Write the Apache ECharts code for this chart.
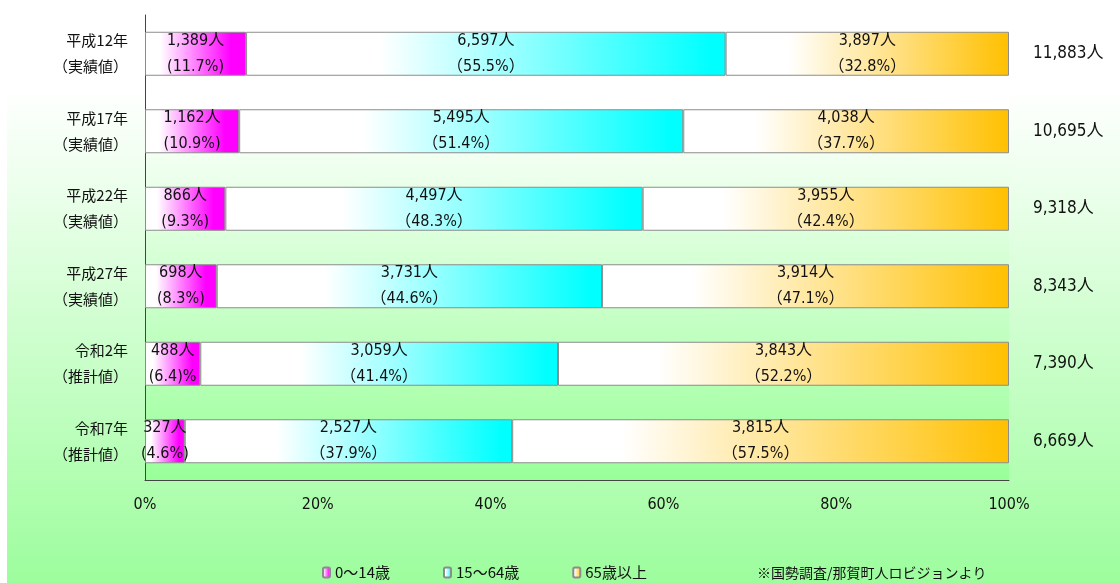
<!DOCTYPE html>
<html><head><meta charset="utf-8">
<script src="https://cdn.jsdelivr.net/npm/echarts@6/dist/echarts.min.js"></script>
<style>html,body{margin:0;padding:0;background:#fff}#c{width:1120px;height:583px}</style>
</head><body><div id="c"></div>
<script>
var years = ['平成12年','平成17年','平成22年','平成27年','令和2年','令和7年'];
var kinds = ['（実績値）','（実績値）','（実績値）','（実績値）','（推計値）','（推計値）'];
var young = [1389,1162,866,698,488,327];
var working = [6597,5495,4497,3731,3059,2527];
var elderly = [3897,4038,3955,3914,3843,3815];
var totals = [11883,10695,9318,8343,7390,6669];
var youngPct = [11.7,10.9,9.3,8.3,6.4,4.6];
var workingPct = [55.5,51.4,48.3,44.6,41.4,37.9];
var elderlyPct = [32.8,37.7,42.4,47.1,52.2,57.5];
var youngPctText = ['(11.7%)','(10.9%)','(9.3%)','(8.3%)','(6.4)%','(4.6%)'];
var xTicks = [0,20,40,60,80,100];
var legendNames = ['0〜14歳','15〜64歳','65歳以上'];
var sourceNote = '※国勢調査/那賀町人ロビジョンより';

var numFont = '"Liberation Sans Narrow","DejaVu Sans Condensed","Noto Sans CJK JP",sans-serif';
var jpFont = '"Noto Sans CJK JP",sans-serif';

function fmt(n){return n.toLocaleString('en-US');}
function grad(c, w, e){
  return {type:'linear',x:0,y:0,x2:1,y2:0,colorStops:[
    {offset:0,color:'#ffffff'},{offset:w,color:'#ffffff'},{offset:e,color:c},{offset:1,color:c}]};
}
var categories = years.map(function(y,i){return y+'\n'+kinds[i];});

function mkSeries(name, pct, counts, pctText, color, w, e){
  return {
    name:name, type:'bar', stack:'a', barWidth:44,
    data:pct,
    itemStyle:{color:grad(color,w,e), borderColor:'#8c8c8c', borderWidth:1},
    label:{show:true, position:'inside', color:'#111', fontSize:16, lineHeight:26,
      fontFamily:numFont,
      formatter:function(p){return fmt(counts[p.dataIndex])+'人\n'+pctText[p.dataIndex];}},
    emphasis:{disabled:true}
  };
}

var chart = echarts.init(document.getElementById('c'));
chart.setOption({
  animation:false,
  graphic:[
    {type:'rect', z:-10, silent:true, shape:{x:7,y:0,width:1113,height:583},
     style:{fill:{type:'linear',x:0,y:0,x2:0,y2:1,colorStops:[{offset:0,color:'#ffffff'},{offset:0.15,color:'#ffffff'},{offset:1,color:'#9dfd9d'}]}}},
    {type:'text', left:757, top:566, style:{text:sourceNote, font:'14px "Noto Sans CJK JP",sans-serif', fill:'#111'}}
  ],
  grid:{left:145, right:111, top:15, bottom:103, show:true, borderWidth:0,
    backgroundColor:{type:'linear',x:0,y:0,x2:0,y2:1,colorStops:[{offset:0,color:'#ffffff'},{offset:0.2,color:'#ffffff'},{offset:1,color:'#99ff99'}]}},
  legend:{left:322, top:565, padding:0, itemWidth:7, itemHeight:10, itemGap:53,
    textStyle:{fontFamily:jpFont, fontSize:15, color:'#111'}, data:legendNames},
  xAxis:{type:'value', min:0, max:100, interval:20,
    axisLine:{show:true, lineStyle:{color:'#444', width:1}},
    axisTick:{show:false}, splitLine:{show:false},
    axisLabel:{margin:17, fontFamily:numFont, fontSize:16, color:'#111',
      formatter:function(v){return v+'%';}}},
  yAxis:[
    {type:'category', inverse:true, data:categories,
     axisLine:{show:true, lineStyle:{color:'#444', width:1}}, axisTick:{show:false},
     axisLabel:{margin:17, fontFamily:jpFont, fontSize:15, lineHeight:26, color:'#111', align:'right'}},
    {type:'category', inverse:true, position:'right', data:totals.map(function(t){return fmt(t)+'人';}),
     axisLine:{show:false}, axisTick:{show:false},
     axisLabel:{margin:24, fontFamily:numFont, fontSize:17, color:'#111', align:'left'}}
  ],
  series:[
    mkSeries(legendNames[0], youngPct, young, youngPctText, '#ff00ff', 0.15, 0.85),
    mkSeries(legendNames[1], workingPct, working, workingPct.map(function(v){return '（'+v.toFixed(1)+'%）';}), '#00ffff', 0.28, 0.97),
    mkSeries(legendNames[2], elderlyPct, elderly, elderlyPct.map(function(v){return '（'+v.toFixed(1)+'%）';}), '#ffc000', 0.22, 1)
  ]
});
</script></body></html>
